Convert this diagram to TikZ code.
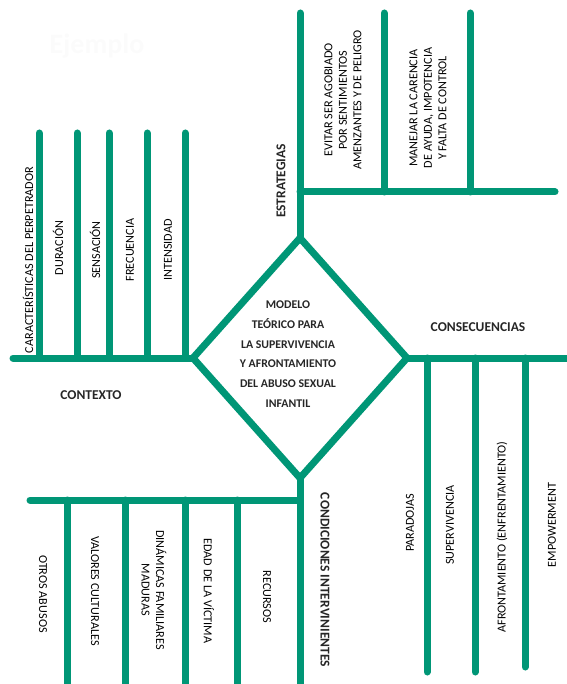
\documentclass[tikz,border=0pt]{standalone}
\usepackage{fontspec}
\setmainfont{Carlito}
\usetikzlibrary{positioning}
\usetikzlibrary{shapes}
\usetikzlibrary{calc}
\definecolor{fishgreen}{RGB}{0,150,118}

\begin{document}
\begin{tikzpicture}[x=1pt, y=-1pt,
    bone/.style={draw=fishgreen, line width=7pt, line cap=round},
    ribtext/.style={font=\fontsize{12.2}{14.5}\selectfont, align=center, inner sep=0pt},
    heading/.style={font=\bfseries\fontsize{13.5}{15}\selectfont, text=black!85, inner sep=0pt}]
    \useasboundingbox (0,0) rectangle (566,684);

    \node[font=\bfseries\fontsize{28}{30}\selectfont, text=black!1.5] (sample) at (97,46) {Ejemplo};

    % centre
    \node[diamond, draw=fishgreen, line width=7pt, minimum width=214pt, minimum height=240pt, inner sep=0pt, outer sep=0pt] (model) at (300,358) {};
    \node[heading, font=\bfseries\fontsize{11.8}{19.7}\selectfont, align=center] (title) at (288,354)
        {MODELO\\TEÓRICO PARA\\LA SUPERVIVENCIA\\Y AFRONTAMIENTO\\DEL ABUSO SEXUAL\\INFANTIL};

    % contexto
    \coordinate (ctxend) at (13,358);
    \draw[bone] (model.west) -- (ctxend);
    \foreach \x/\name in {39/a, 77/b, 109/c, 147/d, 185/e} {
        \coordinate (ctx\name) at (\x,133);
        \draw[bone] (ctx\name) -- (ctx\name |- model.west);
    }
    \node[ribtext, rotate=90] (perp) at (28,260) {CARACTERÍSTICAS DEL PERPETRADOR};
    \node[ribtext, rotate=90] (dur) at (58,248) {DURACIÓN};
    \node[ribtext, rotate=90] (sens) at (95,250) {SENSACIÓN};
    \node[ribtext, rotate=90] (frec) at (130,250) {FRECUENCIA};
    \node[ribtext, rotate=90] (int) at (168,250) {INTENSIDAD};
    \node[heading] (ctxlabel) at (91,395) {CONTEXTO};

    % estrategias
    \coordinate (strtop) at (300,13);
    \coordinate (strend) at (555,192);
    \draw[bone] (model.north) -- (strtop);
    \draw[bone] (strend -| model.north) -- (strend);
    \foreach \x/\name in {384/a, 470/b} {
        \coordinate (str\name) at (\x,13);
        \draw[bone] (str\name) -- (str\name |- strend);
    }
    \node[heading, rotate=90] (strlabel) at (281,181) {ESTRATEGIAS};
    \node[ribtext, rotate=90] (evitar) at (343,100) {EVITAR SER AGOBIADO\\POR SENTIMIENTOS\\AMENZANTES Y DE PELIGRO};
    \node[ribtext, rotate=90] (manejar) at (428,108) {MANEJAR LA CARENCIA\\DE AYUDA, IMPOTENCIA\\Y FALTA DE CONTROL};

    % consecuencias
    \coordinate (conend) at (570,358);
    \draw[bone] (model.east) -- (conend);
    \foreach \x/\y/\name in {427/672/a, 475/672/b, 525/667/c} {
        \coordinate (con\name) at (\x,\y);
        \draw[bone] (con\name |- model.east) -- (con\name);
    }
    \node[heading] (conlabel) at (478,327) {CONSECUENCIAS};
    \node[ribtext, rotate=90] (parad) at (410,523) {PARADOJAS};
    \node[ribtext, rotate=90] (superv) at (450,525) {SUPERVIVENCIA};
    \node[ribtext, rotate=90] (afront) at (502,537) {AFRONTAMIENTO (ENFRENTAMIENTO)};
    \node[ribtext, rotate=90] (empow) at (552,525) {EMPOWERMENT};

    % condiciones intervinientes
    \coordinate (cndbottom) at (300,692);
    \coordinate (cndend) at (30,500);
    \draw[bone] (model.south) -- (cndbottom);
    \draw[bone] (cndend -| model.south) -- (cndend);
    \foreach \x/\name in {67/a, 125/b, 185/c, 237/d} {
        \coordinate (cnd\name) at (\x,692);
        \draw[bone] (cnd\name |- cndend) -- (cnd\name);
    }
    \node[heading, rotate=-90] (cndlabel) at (325,580) {CONDICIONES INTERVINIENTES};
    \node[ribtext, rotate=-90] (otros) at (43,594) {OTROS ABUSOS};
    \node[ribtext, rotate=-90] (valores) at (95,591) {VALORES CULTURALES};
    \node[ribtext, rotate=-90] (dinam) at (154,590) {DINÁMICAS FAMILIARES\\MADURAS};
    \node[ribtext, rotate=-90] (edad) at (209,591) {EDAD DE LA VÍCTIMA};
    \node[ribtext, rotate=-90] (recur) at (267,597) {RECURSOS};
\end{tikzpicture}
\end{document}
